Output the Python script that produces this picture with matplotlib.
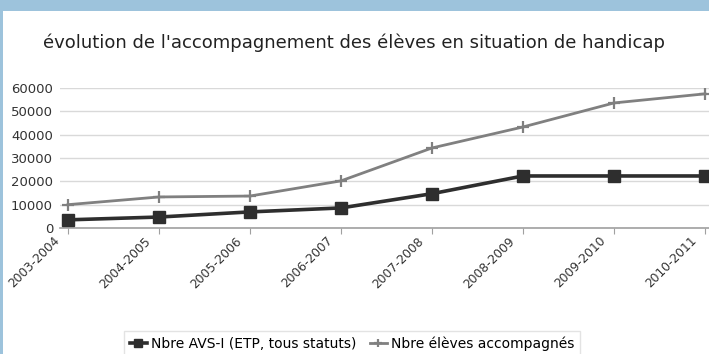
import matplotlib.pyplot as plt
from matplotlib.patches import Rectangle

# data
years = ['2003-2004', '2004-2005', '2005-2006', '2006-2007',
         '2007-2008', '2008-2009', '2009-2010', '2010-2011']
avs = [3500, 4700, 6900, 8600, 14700, 22300, 22300, 22300]
eleves = [10000, 13300, 13700, 20200, 34300, 43300, 53600, 57500]
yticks = [0, 10000, 20000, 30000, 40000, 50000, 60000]

plt.rcParams['font.family'] = 'DejaVu Sans'

fig = plt.figure(figsize=(7.09, 3.54), dpi=100)
fig.patch.set_facecolor('#9dc3dc')
# white card inside the blue frame
fig.patches.append(Rectangle((3 / 709, 0), 1, (354 - 11) / 354,
                             transform=fig.transFigure, facecolor='white',
                             edgecolor='none', zorder=-1))

ax = fig.add_axes([60 / 709, (354 - 228) / 354, 649 / 709, 140 / 354])
ax.set_facecolor('none')
ax.set_zorder(1)

x = list(range(len(years)))
l1, = ax.plot(x, avs, color='#2e2e2e', linewidth=2.6, marker='s',
              markersize=8, clip_on=False, zorder=3,
              label='Nbre AVS-I (ETP, tous statuts)')
l2, = ax.plot(x, eleves, color='#808080', linewidth=2.0, marker='+',
              markersize=8, markeredgewidth=1.6, clip_on=False, zorder=3,
              label='Nbre élèves accompagnés')

ax.set_yticks(yticks)
ax.set_yticklabels([str(v) for v in yticks], fontsize=9.5, color='#333333')

# tick marks at the points, labels sit a bit to the left of them
ax.set_xticks(x)
ax.set_xticklabels([])
ax.tick_params(axis='x', length=4, color='#a0a0a0')
for i, yr in enumerate(years):
    ax.annotate(yr, xy=(i, 0), xycoords=('data', 'axes fraction'),
                xytext=(-10, -11), textcoords='offset pixels',
                rotation=45, ha='right', va='center', rotation_mode='anchor',
                fontsize=8.8, color='#333333', annotation_clip=False)

ax.set_xlim(-0.088, 7.044)
ax.set_ylim(0, 60000)

ax.grid(axis='y', color='#d9d9d9', linewidth=1)
ax.set_axisbelow(True)
for side in ['top', 'right', 'left']:
    ax.spines[side].set_visible(False)
ax.spines['bottom'].set_color('#a0a0a0')
ax.spines['bottom'].set_linewidth(1.2)
ax.tick_params(axis='y', length=0, pad=5)

fig.text(354 / 709, (354 - 43) / 354,
         "évolution de l'accompagnement des élèves en situation de handicap",
         ha='center', va='center', fontsize=13, color='#222222')

fig.legend(handles=[l1, l2], loc='center', ncol=2,
           bbox_to_anchor=(352 / 709, (354 - 344) / 354), fontsize=10,
           frameon=True, edgecolor='#dddddd', fancybox=False,
           handlelength=1.2, handletextpad=0.3, columnspacing=1.0,
           borderpad=0.4, markerscale=0.7)

fig.savefig('out.png', dpi=100)
